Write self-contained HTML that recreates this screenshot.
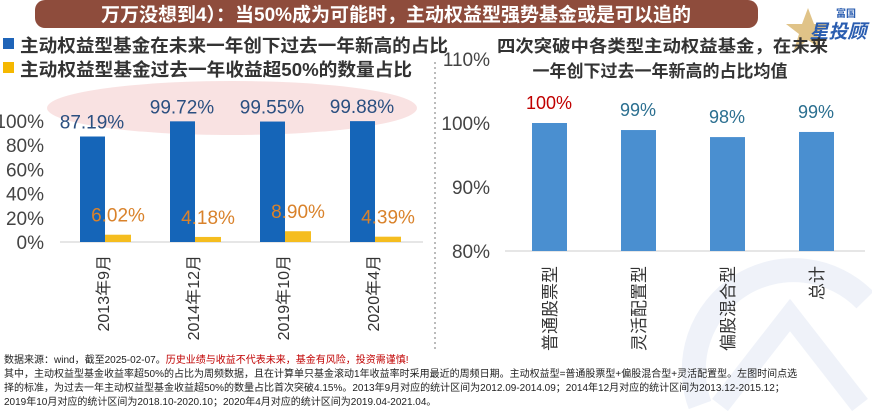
<!DOCTYPE html>
<html><head><meta charset="utf-8"><style>
html,body{margin:0;width:872px;height:414px;overflow:hidden;background:#fff;font-family:"Liberation Sans","Noto Sans CJK SC",sans-serif;}
svg{display:block;}
svg text{font-family:"Liberation Sans","Noto Sans CJK SC",sans-serif;}
</style></head><body>
<svg width="872" height="414" viewBox="0 0 872 414">
<g opacity="0.07" fill="none" stroke="#2a5db0">
<path d="M700 405 A100 100 0 0 1 865 300" stroke-width="24"/>
<path d="M720 405 L790 315 L860 405" stroke-width="20"/>
</g>
<rect x="35" y="0" width="723" height="28" rx="10" fill="#8e4c3c"/>
<text x="396" y="21" text-anchor="middle" font-size="19" font-weight="bold" fill="#fff">万万没想到4）：当50%成为可能时，主动权益型强势基金或是可以追的</text>
<g>
<path d="M808 8 L814 24 L830 24 L817 34 L822 50 L808 40 L794 50 L799 34 L786 24 L802 24 Z" fill="#d8b46a" opacity="0.8"/>
<text x="846" y="17" text-anchor="middle" font-size="10" font-weight="bold" fill="#2a5db0">富国</text>
<text x="838" y="38" text-anchor="middle" font-size="19" font-weight="bold" font-style="italic" fill="#2a5db0">星投顾</text>
</g>
<g>
<rect x="3" y="38" width="11" height="11" fill="#1f64b8"/>
<text x="20" y="52" font-size="18" font-weight="bold" fill="#333" textLength="428" lengthAdjust="spacingAndGlyphs">主动权益型基金在未来一年创下过去一年新高的占比</text>
<rect x="3" y="62" width="11" height="11" fill="#f5b800"/>
<text x="20" y="76" font-size="18" font-weight="bold" fill="#333" textLength="392" lengthAdjust="spacingAndGlyphs">主动权益型基金过去一年收益超50%的数量占比</text>
</g>
<text x="497" y="52" font-size="17" font-weight="bold" fill="#333" textLength="331" lengthAdjust="spacingAndGlyphs">四次突破中各类型主动权益基金，在未来</text>
<text x="660" y="77" text-anchor="middle" font-size="17" font-weight="bold" fill="#333">一年创下过去一年新高的占比均值</text>
<line x1="435" y1="62" x2="435" y2="352" stroke="#bbb" stroke-width="2" stroke-dasharray="2,3"/>
<ellipse cx="232" cy="108" rx="185" ry="27" fill="#f7d6d6" opacity="0.7"/>
<g id="left"></g>
<g id="right"></g>
<g font-size="10" fill="#222">
<text x="4" y="363"><tspan>数据来源：wind，截至2025-02-07。</tspan><tspan fill="#c00000">历史业绩与收益不代表未来，基金有风险，投资需谨慎!</tspan></text>
<text x="4" y="377">其中，主动权益型基金收益率超50%的占比为周频数据，且在计算单只基金滚动1年收益率时采用最近的周频日期。主动权益型=普通股票型+偏股混合型+灵活配置型。左图时间点选</text>
<text x="4" y="391">择的标准，为过去一年主动权益型基金收益超50%的数量占比首次突破4.15%。2013年9月对应的统计区间为2012.09-2014.09；2014年12月对应的统计区间为2013.12-2015.12；</text>
<text x="4" y="405">2019年10月对应的统计区间为2018.10-2020.10；2020年4月对应的统计区间为2019.04-2021.04。</text>
</g>
</svg>
<script>
const leftCats=['2013年9月','2014年12月','2019年10月','2020年4月'];
const leftBlue=[87.19,99.72,99.55,99.88];
const leftYellow=[6.02,4.18,8.90,4.39];
const leftTicks=[0,20,40,60,80,100];
const rightCats=['普通股票型','灵活配置型','偏股混合型','总计'];
const rightVals=[100,98.9,97.8,98.6];
const rightLabels=['100%','99%','98%','99%'];
const rightTicks=[80,90,100,110];
const NS='http://www.w3.org/2000/svg';
function mk(p,t,a,txt){const e=document.createElementNS(NS,t);for(const k in a)e.setAttribute(k,a[k]);if(txt!==undefined)e.textContent=txt;p.appendChild(e);return e;}
const L=document.getElementById('left');
const ly=v=>242-v*1.21;
const lx=i=>80+i*90;
leftTicks.forEach(t=>{const e=mk(L,'text',{x:44,y:ly(t)+7,'text-anchor':'end','font-size':19,fill:'#444'},t+'%');

});
const la=mk(L,'line',{x1:60,y1:242,x2:423,y2:242,stroke:'#ccc'});


leftCats.forEach((c,i)=>{
const b=mk(L,'rect',{x:lx(i),y:ly(leftBlue[i]),width:25,height:242-ly(leftBlue[i]),fill:'#1565b8'});


const y=mk(L,'rect',{x:lx(i)+25,y:ly(leftYellow[i]),width:26,height:242-ly(leftYellow[i]),fill:'#f5bd1f'});


const bl=mk(L,'text',{x:lx(i)+12,y:ly(leftBlue[i])-8,'text-anchor':'middle','font-size':19,fill:'#2b4f80'},leftBlue[i].toFixed(2)+'%');


const yl=mk(L,'text',{x:lx(i)+38,y:ly(leftYellow[i])-13,'text-anchor':'middle','font-size':19,fill:'#d9822b'},leftYellow[i].toFixed(2)+'%');


const cx=lx(i)+23;
const xl=mk(L,'text',{x:0,y:0,transform:`translate(${cx+6},255) rotate(-90)`,'text-anchor':'end','font-size':16,fill:'#333'},c);


});
const R=document.getElementById('right');
const ry=v=>251-(v-80)*6.4;
const rx=i=>532+i*89;
rightTicks.forEach(t=>{const e=mk(R,'text',{x:490,y:ry(t)+7,'text-anchor':'end','font-size':19,fill:'#444'},t+'%');

});
const ra=mk(R,'line',{x1:505,y1:251,x2:865,y2:251,stroke:'#ccc'});


rightCats.forEach((c,i)=>{
const b=mk(R,'rect',{x:rx(i),y:ry(rightVals[i]),width:35,height:251-ry(rightVals[i]),fill:'#4a8fd0'});


const t=mk(R,'text',{x:rx(i)+17,y:ry(rightVals[i])-14,'text-anchor':'middle','font-size':18,fill:i===0?'#c00000':'#2b6f90'},rightLabels[i]);


const xl=mk(R,'text',{x:0,y:0,transform:`translate(${rx(i)+24},266) rotate(-90)`,'text-anchor':'end','font-size':17,fill:'#333'},c);


});
</script>
</body></html>
